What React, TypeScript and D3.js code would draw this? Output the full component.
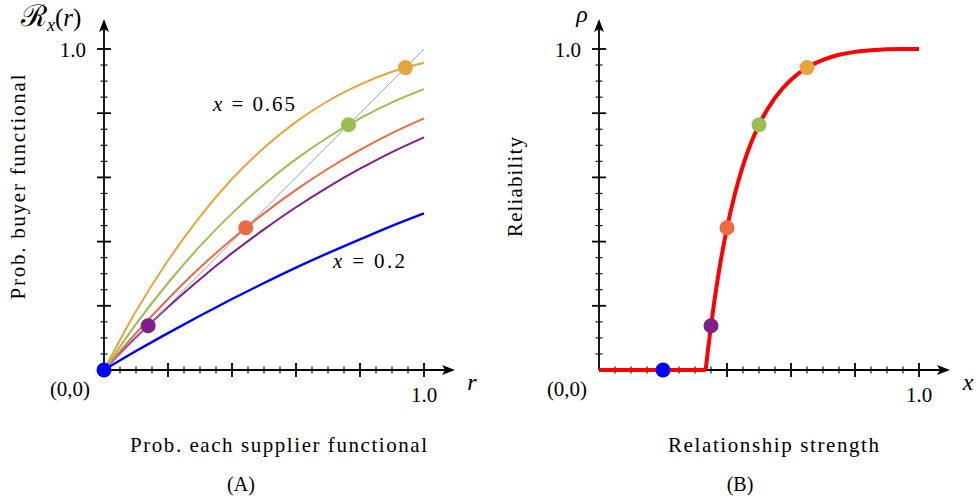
import React from "react";
import * as d3 from "d3";

// ---------- data ----------
const rGrid = [0, 0.1, 0.2, 0.3, 0.4, 0.5, 0.6, 0.7, 0.8, 0.9, 1.0];
const curveX020 = [0, 0.059, 0.115, 0.169, 0.221, 0.271, 0.319, 0.364, 0.407, 0.449, 0.488];
const curveX035 = [0, 0.101, 0.196, 0.283, 0.364, 0.438, 0.507, 0.57, 0.627, 0.679, 0.725];
const curveX040 = [0, 0.115, 0.221, 0.319, 0.407, 0.488, 0.561, 0.627, 0.686, 0.738, 0.784];
const curveX050 = [0, 0.143, 0.271, 0.386, 0.488, 0.578, 0.657, 0.725, 0.784, 0.834, 0.875];
const curveX065 = [0, 0.183, 0.341, 0.478, 0.595, 0.692, 0.773, 0.838, 0.889, 0.929, 0.957];
const seriesColors = ["#0000FF", "#7E1F8A", "#EE6A42", "#9CBE50", "#E6A53C"];
const strengthValues = [0.2, 0.35, 0.4, 0.5, 0.65];
const fixedPoints = [0, 0.138, 0.443, 0.764, 0.942];

const relStrength = [0, 0.3333, 0.34, 0.35, 0.36, 0.375, 0.4, 0.425, 0.45, 0.475, 0.5, 0.55, 0.6, 0.65, 0.7, 0.75, 0.8, 0.85, 0.9, 0.95, 1.0];
const reliability = [0, 0, 0.058, 0.138, 0.211, 0.308, 0.443, 0.55, 0.637, 0.707, 0.764, 0.848, 0.904, 0.942, 0.966, 0.982, 0.991, 0.996, 0.999, 1.0, 1.0];
const threshold = 0.3333;

const majorTicks = [0.2, 0.4, 0.6, 0.8, 1.0];
const minorTicks = [0.05, 0.1, 0.15, 0.25, 0.3, 0.35, 0.45, 0.5, 0.55, 0.65, 0.7, 0.75, 0.85, 0.9, 0.95];

const FONT = "Liberation Serif";

const yScale = d3.scaleLinear().domain([0, 1]).range([370, 49]);
const xLeft = d3.scaleLinear().domain([0, 1]).range([104, 424]);
const xRight = d3.scaleLinear().domain([0, 1]).range([599, 919]);

function Axes({ xs, arrowX }: { xs: d3.ScaleLinear<number, number>; arrowX: number }) {
  const x0 = xs(0);
  const y0 = yScale(0);
  const topY = 19;
  return (
    <g stroke="#000" fill="none">
      <line x1={x0} y1={y0} x2={arrowX - 8} y2={y0} strokeWidth={1.8} />
      <line x1={x0} y1={y0} x2={x0} y2={topY + 8} strokeWidth={1.8} />
      <path d={`M${arrowX},${y0} L${arrowX - 13},${y0 - 5} L${arrowX - 10},${y0} L${arrowX - 13},${y0 + 5} Z`} fill="#000" stroke="none" />
      <path d={`M${x0},${topY} L${x0 - 5},${topY + 13} L${x0},${topY + 10} L${x0 + 5},${topY + 13} Z`} fill="#000" stroke="none" />
      {majorTicks.map((t) => (
        <g key={"M" + t}>
          <line x1={xs(t)} x2={xs(t)} y1={y0 - 7} y2={y0 + 7} strokeWidth={1.8} />
          <line x1={x0 - 7} x2={x0 + 7} y1={yScale(t)} y2={yScale(t)} strokeWidth={1.8} />
        </g>
      ))}
      {minorTicks.map((t) => (
        <g key={"m" + t}>
          <line x1={xs(t)} x2={xs(t)} y1={y0 - 3.5} y2={y0 + 3.5} strokeWidth={1.1} />
          <line x1={x0 - 3.5} x2={x0 + 3.5} y1={yScale(t)} y2={yScale(t)} strokeWidth={1.1} />
        </g>
      ))}
    </g>
  );
}

export default function App() {
  const curves = [curveX020, curveX035, curveX040, curveX050, curveX065];
  const lineL = d3
    .line<number>()
    .x((_, i) => xLeft(rGrid[i]))
    .y((d) => yScale(d))
    .curve(d3.curveMonotoneX);

  const pts = relStrength.map((s, i) => [s, reliability[i]] as [number, number]);
  const flat = pts.filter((p) => p[0] <= threshold);
  const rising = pts.filter((p) => p[0] >= threshold);
  const lineR = d3
    .line<[number, number]>()
    .x((d) => xRight(d[0]))
    .y((d) => yScale(d[1]));

  return (
    <svg width={979} height={502} style={{ position: "absolute", left: 0, top: 0, background: "#fff", fontFamily: FONT }}>
      {/* Left panel */}
      <Axes xs={xLeft} arrowX={455} />
      {curves.map((c, i) => (
        <path key={i} d={lineL(c) || ""} fill="none" stroke={seriesColors[i]} strokeWidth={i === 0 ? 2.4 : 2} />
      ))}
      <line x1={xLeft(0)} y1={yScale(0)} x2={xLeft(1)} y2={yScale(1)} stroke="#8FA2CB" strokeWidth={1} />
      {fixedPoints.map((p, i) => (
        <circle key={i} cx={xLeft(p)} cy={yScale(p)} r={7.5} fill={seriesColors[i]} />
      ))}
      <text x={213} y={111} fontSize={21} textLength={82}>
        <tspan fontStyle="italic">x</tspan> = 0.65
      </text>
      <text x={333} y={268} fontSize={21} textLength={72}>
        <tspan fontStyle="italic">x</tspan> = 0.2
      </text>
      <text x={21} y={26} fontSize={25}>
        <tspan fontSize={30}>ℛ</tspan>
        <tspan fontStyle="italic" fontSize={18} dy={5}>x</tspan>
        <tspan dy={-5}>(</tspan>
        <tspan fontStyle="italic">r</tspan>
        <tspan>)</tspan>
      </text>
      <text x={86} y={57} fontSize={21} textAnchor="end">1.0</text>
      <text x={70} y={396} fontSize={21} textAnchor="middle">(0,0)</text>
      <text x={424} y={402} fontSize={21} textAnchor="middle">1.0</text>
      <text x={472} y={390} fontSize={24} fontStyle="italic" textAnchor="middle">r</text>
      <text transform="translate(25,187) rotate(-90)" fontSize={21} textAnchor="middle" textLength={225}>
        Prob. buyer functional
      </text>
      <text x={278.5} y={452} fontSize={21} textAnchor="middle" textLength={297}>
        Prob. each supplier functional
      </text>
      <text x={241} y={491} fontSize={20} textAnchor="middle">(A)</text>

      {/* Right panel */}
      <Axes xs={xRight} arrowX={950} />
      <path d={lineR.curve(d3.curveLinear)(flat) || ""} fill="none" stroke="#FF0000" strokeWidth={4} />
      <path d={lineR.curve(d3.curveMonotoneX)(rising) || ""} fill="none" stroke="#FF0000" strokeWidth={4} />
      {strengthValues.map((s, i) => (
        <circle key={i} cx={xRight(s)} cy={yScale(fixedPoints[i])} r={7.5} fill={seriesColors[i]} />
      ))}
      <text x={582} y={22} fontSize={24} fontStyle="italic" textAnchor="middle">ρ</text>
      <text x={581} y={57} fontSize={21} textAnchor="end">1.0</text>
      <text x={567} y={396} fontSize={21} textAnchor="middle">(0,0)</text>
      <text x={919} y={402} fontSize={21} textAnchor="middle">1.0</text>
      <text x={968} y={390} fontSize={24} fontStyle="italic" textAnchor="middle">x</text>
      <text transform="translate(522,187) rotate(-90)" fontSize={21} textAnchor="middle" textLength={100}>
        Reliability
      </text>
      <text x={773.5} y={452} fontSize={21} textAnchor="middle" textLength={211}>
        Relationship strength
      </text>
      <text x={740} y={491} fontSize={20} textAnchor="middle">(B)</text>
    </svg>
  );
}
